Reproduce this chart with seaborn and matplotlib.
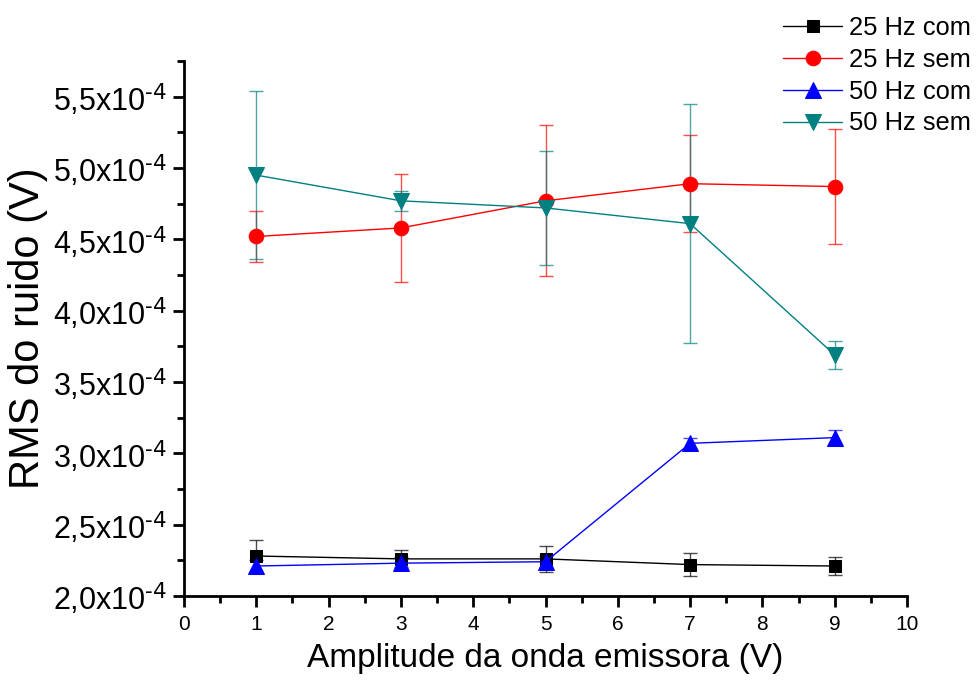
import numpy as np
import pandas as pd
import matplotlib
matplotlib.use('Agg')
import matplotlib.pyplot as plt
import seaborn as sns
from matplotlib.ticker import MultipleLocator, FuncFormatter

# Dados (RMS em unidades de 1e-4 V)
amplitude = [1, 3, 5, 7, 9]

rms_25_com = [2.28, 2.26, 2.26, 2.22, 2.21]
err_25_com = [0.11, 0.06, 0.09, 0.08, 0.06]

rms_25_sem = [4.52, 4.58, 4.77, 4.89, 4.87]
err_25_sem = [0.18, 0.38, 0.53, 0.34, 0.40]

rms_50_com = [2.21, 2.23, 2.24, 3.07, 3.11]
err_50_com = [0.04, 0.04, 0.04, 0.04, 0.05]

rms_50_sem = [4.95, 4.77, 4.72, 4.61, 3.69]
err_50_sem = [0.59, 0.07, 0.40, 0.84, 0.10]

series_labels = ['25 Hz com', '25 Hz sem', '50 Hz com', '50 Hz sem']
series_colors = ['#000000', '#FF0000', '#0000FF', '#008080']
series_markers = ['s', 'o', '^', 'v']
series_sizes = [9, 10.5, 11, 11]

sns.set_style('ticks')
plt.rcParams['font.family'] = ['Liberation Sans', 'DejaVu Sans']
plt.rcParams['mathtext.default'] = 'regular'
plt.rcParams['text.color'] = 'black'
plt.rcParams['axes.labelcolor'] = 'black'
plt.rcParams['xtick.color'] = 'black'
plt.rcParams['ytick.color'] = 'black'

fig = plt.figure(figsize=(9.8, 6.84), dpi=100)
ax = fig.add_axes([0.1878, 0.1287, 0.7377, 0.7821])

values = [rms_25_com, rms_25_sem, rms_50_com, rms_50_sem]
errors = [err_25_com, err_25_sem, err_50_com, err_50_sem]

for lab, vals, errs, col, mk, ms in zip(series_labels, values, errors,
                                         series_colors, series_markers, series_sizes):
    y = np.array(vals) * 1e-4
    e = np.array(errs) * 1e-4
    ax.errorbar(amplitude, y, yerr=e, fmt='none', ecolor=col, elinewidth=1.0,
                capsize=5, capthick=1.0, alpha=0.7, zorder=2)
    sns.lineplot(x=amplitude, y=y, ax=ax, color=col, marker=mk, markersize=ms,
                 markeredgecolor=col, linewidth=1.0, label=lab, zorder=3)

ax.set_xlim(0, 10)
ax.set_ylim(2.0e-4, 5.75e-4)
ax.xaxis.set_major_locator(MultipleLocator(1))
ax.xaxis.set_minor_locator(MultipleLocator(0.5))
ax.yaxis.set_major_locator(MultipleLocator(0.5e-4))
ax.yaxis.set_minor_locator(MultipleLocator(0.25e-4))


def fmt_y(v, pos):
    s = f'{v * 1e4:.1f}'.replace('.', ',')
    return s + r'x10$^{\text{-4}}$'


ax.yaxis.set_major_formatter(FuncFormatter(fmt_y))
ax.tick_params(axis='both', which='major', length=8, width=2, direction='out', color='black')
ax.tick_params(axis='both', which='minor', length=5, width=2, direction='out', color='black')
ax.tick_params(axis='y', labelsize=22, pad=4, labelcolor='black')
ax.tick_params(axis='x', labelsize=15, pad=6, labelcolor='black')
for sp in ['left', 'bottom']:
    ax.spines[sp].set_linewidth(2)
    ax.spines[sp].set_color('black')
sns.despine(ax=ax)

ax.set_xlabel('Amplitude da onda emissora (V)', fontsize=24, labelpad=6, color='black')
ax.set_ylabel('RMS do ruido (V)', fontsize=30, labelpad=4, color='black')

ax.legend(loc='upper left', bbox_to_anchor=(0.789, 0.992), bbox_transform=fig.transFigure,
          frameon=False, fontsize=18.4, handlelength=2.3, handletextpad=0.28,
          labelspacing=0.31, borderaxespad=0)

fig.savefig('out.png', dpi=100)
